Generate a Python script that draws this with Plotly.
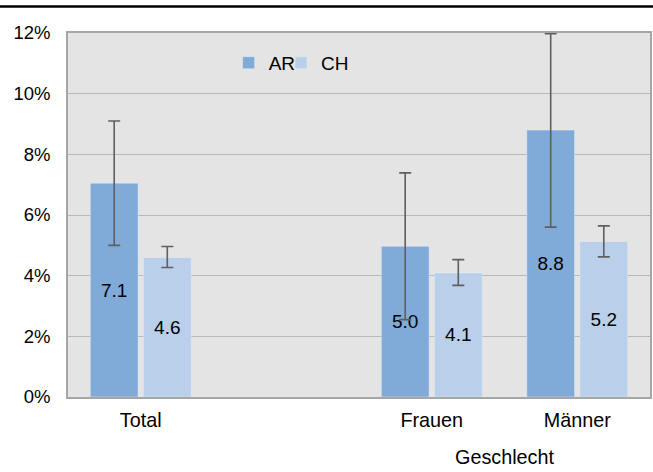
import plotly.graph_objects as go

categories = ["Total", " ", "Frauen", "Männer"]
ar_values = [7.05, None, 4.97, 8.8]
ch_values = [4.6, None, 4.09, 5.13]
ar_upper = [9.1, None, 7.39, 11.98]
ar_lower = [5.0, None, 2.55, 5.6]
ch_upper = [4.96, None, 4.53, 5.64]
ch_lower = [4.27, None, 3.68, 4.62]
ar_labels = ["7.1", "", "5.0", "8.8"]
ch_labels = ["4.6", "", "4.1", "5.2"]
y_ticks = [0, 2, 4, 6, 8, 10, 12]
y_tick_labels = ["0%", "2%", "4%", "6%", "8%", "10%", "12%"]


def plus(v, u):
    return [None if a is None else b - a for a, b in zip(v, u)]


def minus(v, l):
    return [None if a is None else a - b for a, b in zip(v, l)]


FONT = "Liberation Sans, Arial, sans-serif"
err_style = dict(color="#5f5f5f", thickness=1.6, width=6)

fig = go.Figure()
fig.add_trace(go.Bar(
    name="AR", x=categories, y=ar_values, marker_color="#80AAD8",
    text=ar_labels, textposition="inside", insidetextanchor="middle",
    textangle=0, textfont=dict(color="black", size=19, family=FONT),
    error_y=dict(type="data", symmetric=False, array=plus(ar_values, ar_upper),
                 arrayminus=minus(ar_values, ar_lower), **err_style),
    legend="legend",
))
fig.add_trace(go.Bar(
    name="CH", x=categories, y=ch_values, marker_color="#B9CFEA",
    text=ch_labels, textposition="inside", insidetextanchor="middle",
    textangle=0, textfont=dict(color="black", size=19, family=FONT),
    error_y=dict(type="data", symmetric=False, array=plus(ch_values, ch_upper),
                 arrayminus=minus(ch_values, ch_lower), **err_style),
    legend="legend2",
))

legend_common = dict(orientation="h", xanchor="left", yanchor="middle",
                     bgcolor="rgba(0,0,0,0)", font=dict(size=19), itemwidth=30)

fig.update_layout(
    width=653, height=472, autosize=False,
    margin=dict(l=68, r=3, t=33, b=75, autoexpand=False),
    paper_bgcolor="white", plot_bgcolor="#E4E4E4",
    font=dict(family=FONT, size=19, color="black"),
    barmode="group", bargap=0.27, bargroupgap=0.1,
    showlegend=True,
    legend=dict(x=0.276, y=0.918, **legend_common),
    legend2=dict(x=0.366, y=0.918, **legend_common),
    xaxis=dict(type="category", categoryorder="array", categoryarray=categories,
               range=[-0.5, 3.5], showgrid=False, showline=True, linecolor="#A6A6A6",
               linewidth=1.5, mirror=True, ticks="outside", ticklen=4,
               tickcolor="rgba(0,0,0,0)", tickfont=dict(size=19.8),
               automargin=False),
    yaxis=dict(range=[0, 12], tickvals=y_ticks, ticktext=y_tick_labels, showgrid=True,
               gridcolor="#B8B8B8", gridwidth=1.3, showline=True, linecolor="#A6A6A6",
               linewidth=1.5, mirror=True, ticks="outside", ticklen=12,
               tickcolor="rgba(0,0,0,0)", tickfont=dict(size=18.5),
               zeroline=False, automargin=False),
    shapes=[dict(type="line", xref="paper", yref="paper",
                 x0=-68 / 582, x1=(653 - 68) / 582, y0=1 + 26.5 / 364, y1=1 + 26.5 / 364,
                 line=dict(color="black", width=2.5))],
    annotations=[dict(text="Geschlecht", x=2.5, xref="x", y=-60 / 364, yref="paper",
                      showarrow=False, xanchor="center", yanchor="middle",
                      font=dict(size=19.8))],
)

fig.write_html(
    "out.html", config={"displayModeBar": False, "responsive": False},
    default_width="653px", default_height="472px",
    post_script=("document.documentElement.style.overflow='hidden';"
                 "document.documentElement.style.margin='0';"
                 "document.body.style.margin='0';document.body.style.overflow='hidden';"),
)
